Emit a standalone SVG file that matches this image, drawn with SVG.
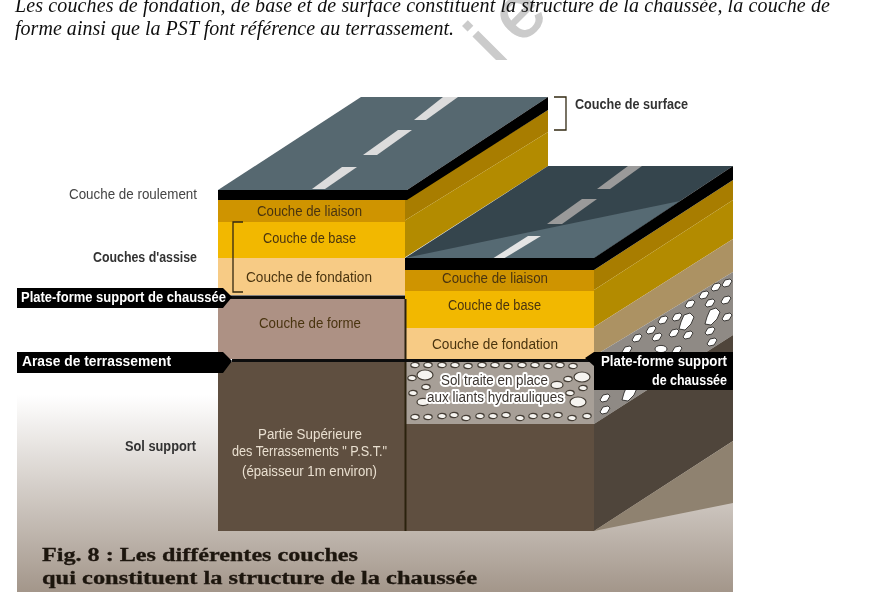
<svg xmlns="http://www.w3.org/2000/svg" width="883" height="592" viewBox="0 0 883 592">
<defs>
<linearGradient id="bg" x1="0" y1="0" x2="0" y2="1"><stop offset="0" stop-color="#ffffff"/><stop offset="1" stop-color="#a3968a"/></linearGradient>
<clipPath id="wm"><rect x="440" y="0" width="130" height="60"/></clipPath>
<filter id="soft" x="0" y="0" width="100%" height="100%"><feGaussianBlur stdDeviation="0.4"/></filter>
<ellipse id="s" rx="4.200" ry="2.600"/>
<ellipse id="m" rx="6" ry="3.600"/>
<ellipse id="l" rx="8" ry="5"/>
<path id="d" d="M-5 2L-2-3 3-4 5-2 2 3-3 4Z"/>
<path id="D" d="M-8 7L-6 0-3-7 3-9 7-5 4 2-2 8Z"/>
</defs>
<style>
text{font-family:"Liberation Sans",Arial,sans-serif}
.para{font-family:"Liberation Serif","Times New Roman",serif;font-style:italic;font-size:20px;fill:#111}
.fig{font-family:"Liberation Serif","Times New Roman",serif;font-weight:bold;font-size:18px;fill:#1f1710;stroke:#1f1710;stroke-width:.3px}
.lb{font-size:14px;fill:#4a3410}
.side{font-size:14px;fill:#444}
.sideb{font-size:14px;font-weight:bold;fill:#333}
.tag{font-size:14px;font-weight:bold;fill:#fff}
.pst{font-size:14px;fill:#e9dfd0}
.halo{font-size:14px;fill:#3c3630;stroke:#fff;stroke-width:4px;paint-order:stroke;stroke-linejoin:round}
.fb use{fill:#f6f4f0;stroke:#443e36;stroke-width:1.200}
.sb use{fill:#fff;stroke:#1c1a18;stroke-width:.8}
.brk{fill:none;stroke:#33290f;stroke-width:1.300}
</style>
<g id="picture" filter="url(#soft)">
<g id="watermark" clip-path="url(#wm)"><text x="498" y="68" transform="rotate(-45 498 68)" font-size="75" letter-spacing="15" fill="#cbcbcb" stroke="#cbcbcb" stroke-width="1.500">ie</text></g>
<g id="paragraph">
<text class="para" x="15" y="12" textLength="815">Les couches de fondation, de base et de surface constituent la structure de la chaussée, la couche de</text>
<text class="para" x="15" y="35" textLength="439">forme ainsi que la PST font référence au terrassement.</text>
</g>
<rect id="ground" x="17" y="395" width="716" height="197" fill="url(#bg)"/>

<g id="upper-block">
<polygon points="218,190 361,97 548,97 407,190" fill="#56676f"/>
<polygon points="312,189 342,167 357,167 325,189" fill="#dcdcdc"/>
<polygon points="363,155 398,130 412,130 377,155" fill="#dcdcdc"/>
<polygon points="414,120 443,97 458,97 426,120" fill="#dcdcdc"/>
<polygon points="404,200 548,110 548,132 404,221" fill="#a87d00"/>
<polygon points="404,221 548,132 548,166 404,258" fill="#b38b00"/>
<polygon points="218,190 407,190 548,97 548,110 407,200 218,200" fill="#000"/>
<rect x="218" y="200" width="187" height="22" fill="#cf9400"/>
<rect x="218" y="222" width="187" height="36" fill="#f2b800"/>
<rect x="218" y="258" width="187" height="37" fill="#f7cb85"/>
<rect x="218" y="295.500" width="187" height="3.500" fill="#0c0c0c"/>
<rect x="218" y="299" width="187" height="60" fill="#ad9184"/>
<rect x="218" y="362" width="187" height="169" fill="#5f4f3f"/>
</g>

<g id="lower-block">
<polygon points="405,258 548,166 733,166 594,258" fill="#36454d"/>
<polygon points="405,258 680,201 594,258" fill="#566a73"/>
<polygon points="547,224 582,199 597,199 562,224" fill="#9a9a9a"/>
<polygon points="597,189 628,166 642,166 610,189" fill="#9a9a9a"/>
<polygon points="492,259 528,236 541,236 503,259" fill="#e4e4e4"/>
<polygon points="594,270 733,180 733,200 594,290" fill="#a87d00"/>
<polygon points="594,290 733,200 733,239 594,327" fill="#b38b00"/>
<polygon points="594,327 733,239 733,272 594,356" fill="#ac9263"/>
<polygon points="594,356 733,272 733,335 594,424" fill="#8f8a85"/>
<polygon points="594,424 733,335 733,441 594,531" fill="#4f453b"/>
<polygon points="594,531 733,441 733,503" fill="#8f8270"/>
<polygon points="405,258 594,258 733,166 733,180 594,270 405,270" fill="#000"/>
<rect x="405" y="270" width="189" height="21" fill="#cf9400"/>
<rect x="405" y="291" width="189" height="37" fill="#f2b800"/>
<rect x="405" y="328" width="189" height="31" fill="#f7cb85"/>
<rect x="405" y="361" width="189" height="63" fill="#a79f97"/>
<rect x="405" y="424" width="189" height="107" fill="#5f4f3f"/>
<g class="fb">
<use href="#s" x="415" y="365"/><use href="#s" x="428" y="365"/><use href="#s" x="442" y="365"/><use href="#s" x="455" y="365"/><use href="#s" x="468" y="366"/><use href="#s" x="482" y="365"/><use href="#s" x="495" y="365"/><use href="#s" x="508" y="366"/><use href="#s" x="522" y="365"/><use href="#s" x="535" y="365"/><use href="#s" x="548" y="366"/><use href="#s" x="560" y="365"/><use href="#s" x="573" y="366"/>
<use href="#s" x="415" y="417"/><use href="#s" x="428" y="417"/><use href="#s" x="442" y="416"/><use href="#s" x="454" y="415"/><use href="#s" x="466" y="418"/><use href="#s" x="480" y="416"/><use href="#s" x="493" y="416"/><use href="#s" x="506" y="415"/><use href="#s" x="520" y="418"/><use href="#s" x="533" y="416"/><use href="#s" x="546" y="416"/><use href="#s" x="558" y="415"/><use href="#s" x="572" y="418"/><use href="#s" x="587" y="416"/>
<use href="#l" x="425" y="375"/><use href="#s" x="412" y="378"/><use href="#s" x="426" y="387"/><use href="#s" x="413" y="393"/><use href="#m" x="423" y="402"/>
<use href="#l" x="582" y="377"/><use href="#s" x="568" y="379"/><use href="#m" x="557" y="385"/><use href="#s" x="583" y="388"/><use href="#s" x="570" y="393"/><use href="#l" x="578" y="402"/>
</g>
<g class="sb">
<use href="#d" x="716" y="287"/><use href="#d" x="727" y="283"/><use href="#d" x="704" y="295"/><use href="#d" x="690" y="304"/><use href="#d" x="710" y="303"/><use href="#d" x="726" y="300"/><use href="#d" x="663" y="320"/><use href="#d" x="677" y="317"/><use href="#D" x="687" y="322"/><use href="#D" x="713" y="317"/><use href="#d" x="727" y="317"/><use href="#d" x="651" y="330"/><use href="#d" x="674" y="333"/><use href="#d" x="688" y="335"/><use href="#d" x="710" y="331"/><use href="#d" x="637" y="338"/><use href="#d" x="657" y="337"/><use href="#d" x="712" y="342"/><use href="#m" x="661" y="349"/><use href="#d" x="627" y="350"/><use href="#d" x="677" y="350"/><use href="#d" x="605" y="398"/><use href="#D" x="630" y="393"/><use href="#d" x="605" y="410"/>
</g>
</g>

<g id="connectors">
<rect x="404.500" y="299" width="2" height="232" fill="#2a2010"/>
<rect x="232" y="359" width="360" height="3" fill="#0c0c0c"/>
<path class="brk" d="M243 222H233V292H243"/>
<path class="brk" d="M554 97H566V130H554"/>
</g>

<g id="tag-plateforme-left"><polygon points="17,288 223,288 232,297 223,308 17,308" fill="#000"/><text class="tag" x="21" y="302" textLength="205" lengthAdjust="spacingAndGlyphs">Plate-forme support de chaussée</text></g>
<g id="tag-arase"><polygon points="17,352 223,352 232,361 223,373 17,373" fill="#000"/><text class="tag" x="22" y="366" textLength="149" lengthAdjust="spacingAndGlyphs">Arase de terrassement</text></g>
<g id="tag-plateforme-right"><polygon points="585,358 594,352 733,352 733,390 594,390 594,366" fill="#000"/><text class="tag" x="601" y="366" textLength="126" lengthAdjust="spacingAndGlyphs">Plate-forme support</text><text class="tag" x="652" y="385" textLength="75" lengthAdjust="spacingAndGlyphs">de chaussée</text></g>

<g id="labels-left">
<text class="side" x="69" y="199" textLength="128" lengthAdjust="spacingAndGlyphs">Couche de roulement</text>
<text class="sideb" x="93" y="262" textLength="104" lengthAdjust="spacingAndGlyphs">Couches d'assise</text>
<text class="sideb" x="125" y="451" textLength="71" lengthAdjust="spacingAndGlyphs">Sol support</text>
<text class="sideb" x="575" y="109" textLength="113" lengthAdjust="spacingAndGlyphs">Couche de surface</text>
</g>
<g id="labels-upper">
<text class="lb" x="257" y="216" textLength="105" lengthAdjust="spacingAndGlyphs">Couche de liaison</text>
<text class="lb" x="263" y="243" textLength="93" lengthAdjust="spacingAndGlyphs">Couche de base</text>
<text class="lb" x="246" y="282" textLength="126" lengthAdjust="spacingAndGlyphs">Couche de fondation</text>
<text class="lb" x="259" y="328" textLength="102" lengthAdjust="spacingAndGlyphs">Couche de forme</text>
<text class="pst" x="258" y="439" textLength="104" lengthAdjust="spacingAndGlyphs">Partie Supérieure</text>
<text class="pst" x="232" y="456" textLength="155" lengthAdjust="spacingAndGlyphs">des Terrassements " P.S.T."</text>
<text class="pst" x="242" y="476" textLength="135" lengthAdjust="spacingAndGlyphs">(épaisseur 1m environ)</text>
</g>
<g id="labels-lower">
<text class="lb" x="442" y="283" textLength="106" lengthAdjust="spacingAndGlyphs">Couche de liaison</text>
<text class="lb" x="448" y="310" textLength="93" lengthAdjust="spacingAndGlyphs">Couche de base</text>
<text class="lb" x="432" y="349" textLength="126" lengthAdjust="spacingAndGlyphs">Couche de fondation</text>
<text class="halo" x="441" y="385" textLength="107" lengthAdjust="spacingAndGlyphs">Sol traite en place</text>
<text class="halo" x="427" y="402" textLength="137" lengthAdjust="spacingAndGlyphs">aux liants hydrauliques</text>
</g>
<g id="caption">
<text class="fig" x="42" y="561" textLength="316" lengthAdjust="spacingAndGlyphs">Fig. 8 : Les différentes couches</text>
<text class="fig" x="42" y="584" textLength="435" lengthAdjust="spacingAndGlyphs">qui constituent la structure de la chaussée</text>
</g>
</g>
</svg>
